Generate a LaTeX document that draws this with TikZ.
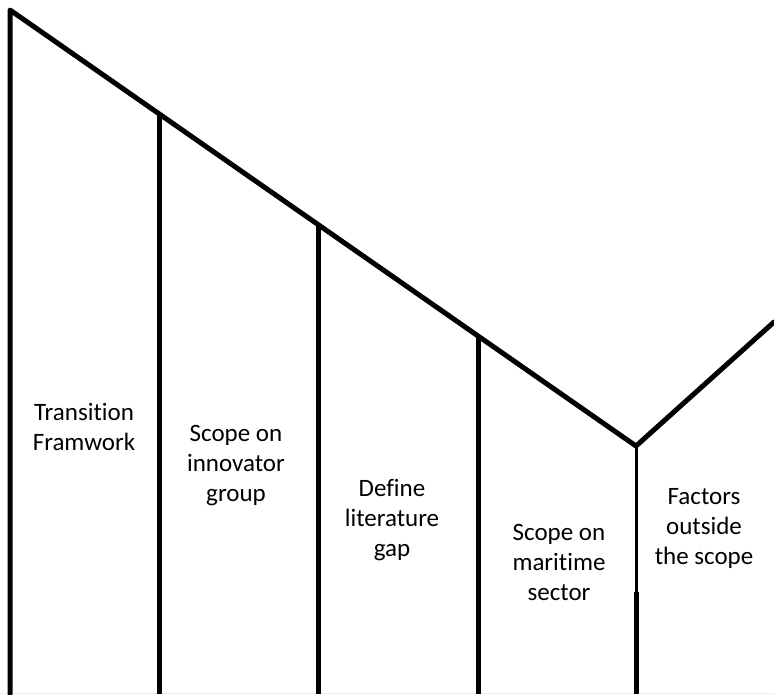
\documentclass[tikz,border=0pt]{standalone}
\usepackage{fontspec}
\setmainfont[Ligatures=NoCommon]{Carlito}
\begin{document}
\begin{tikzpicture}[x=1pt,y=-1pt,
  wall/.style={line width=5pt,line cap=round,line join=round},
  thinwall/.style={line width=3pt},
  label/.style={align=center,font=\fontsize{25}{30}\selectfont,inner sep=0pt}]
\useasboundingbox (0,0) rectangle (774,694);
% corner points of the funnel
\coordinate (tl) at (10,10);
\coordinate (v) at (636,446);
\coordinate (tr) at (774,322);
\coordinate (vmid) at (636,592);
% top points of the dividers on the slope
\coordinate (d1) at (159,113.8);
\coordinate (d2) at (318,224.5);
\coordinate (d3) at (478,336);
% bottom ends
\coordinate (b0) at (10,694);
\coordinate (b1) at (159,694);
\coordinate (b2) at (318,694);
\coordinate (b3) at (478,694);
\coordinate (b4) at (636,694);
\coordinate (bl) at (0,693.5);
\coordinate (br) at (774,693.5);

\draw[black!8,line width=0.8pt] (bl) -- (br);
\draw[wall] (b0) -- (tl) -- (v) -- (tr);
\draw[wall,line cap=butt] (d1) -- (b1);
\draw[wall,line cap=butt] (d2) -- (b2);
\draw[wall,line cap=butt] (d3) -- (b3);
\draw[thinwall] (v) -- (vmid);
\draw[wall,line cap=butt] (vmid) -- (b4);

\node[label] (t1) at (84,427) {Transition\\Framwork};
\node[label] (t2) at (236,466) {Scope on\\innovator\\group};
\node[label] (t3) at (392,520) {Define\\literature\\gap};
\node[label] (t4) at (559,562) {Scope on\\maritime\\sector};
\node[label] (t5) at (704,528) {Factors\\outside\\the scope};
\end{tikzpicture}
\end{document}
